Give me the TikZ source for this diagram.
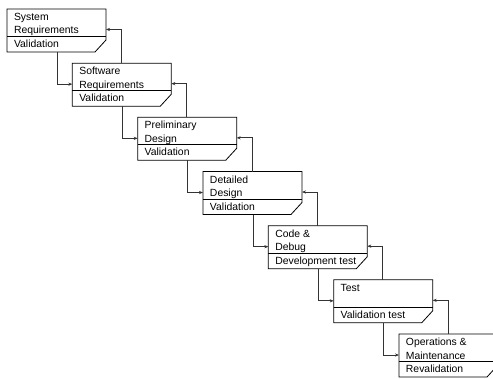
\documentclass[tikz,border=0pt]{standalone}
\usepackage{fontspec}
\setmainfont{Liberation Sans}
\usetikzlibrary{arrows.meta}
\tikzset{
  stagebox/.style={draw=none, minimum width=99pt, minimum height=43pt, inner sep=0pt, outer sep=0pt, anchor=north west},
  outline/.style={draw=black, line width=0.8pt},
  txt/.style={inner sep=0pt, outer sep=0pt, anchor=base west, font=\fontsize{10.4}{13.6}\selectfont},
  conn/.style={draw=black!80, line width=0.8pt, -{Stealth[length=4pt,width=3.2pt]}}
}
\begin{document}
\begin{tikzpicture}[x=1pt,y=-1pt]
\useasboundingbox (0,0) rectangle (493,379);
\clip (0,0) rectangle (493,379);
\foreach \i/\ua/\ub/\lo in {1/System/Requirements/Validation,
                         2/Software/Requirements/Validation,
                         3/Preliminary/Design/Validation,
                         4/Detailed/Design/Validation,
                         5/{Code \&}/Debug/Development test,
                         6/Test/{}/Validation test,
                         7/{Operations \&}/Maintenance/Revalidation}{
  \pgfmathsetmacro{\lx}{7+65.33*(\i-1)}
  \pgfmathsetmacro{\ty}{9+54.17*(\i-1)}
  \node[stagebox] (b\i) at (\lx,\ty) {};
  \draw[outline] (b\i.north west) -- (b\i.north east) -- ([yshift=12pt]b\i.south east)
     -- ([xshift=-11pt]b\i.south east) -- (b\i.south west) -- cycle;
  \draw[outline] ([yshift=-27.5pt]b\i.north west) -- ([yshift=-27.5pt]b\i.north east);
  \node[txt] (ua\i) at ([xshift=7pt,yshift=-11.5pt]b\i.north west) {\ua};
  \node[txt] (ub\i) at ([xshift=7pt,yshift=-25pt]b\i.north west) {\ub};
  \node[txt] (lo\i) at ([xshift=7pt,yshift=-38.5pt]b\i.north west) {\lo};
}
\foreach \i [evaluate=\i as \j using int(\i+1)] in {1,...,6}{
  \draw[conn] ([xshift=50pt]b\i.south west) |- ([yshift=-21pt]b\j.north west);
  \draw[conn] ([xshift=49pt]b\j.north west) |- ([yshift=-20.5pt]b\i.north east);
}
\end{tikzpicture}
\end{document}
